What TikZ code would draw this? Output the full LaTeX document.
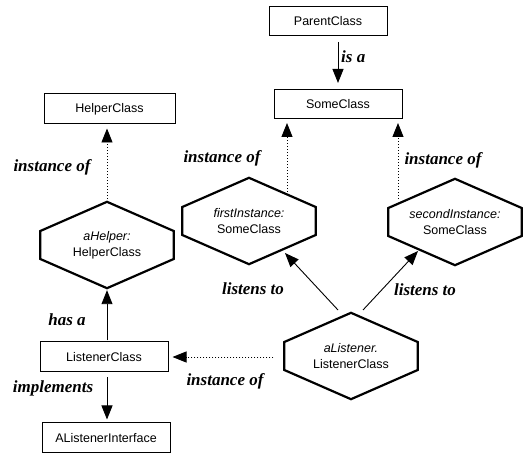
\documentclass[tikz,border=0pt]{standalone}
\usepackage{fontspec}
\setmainfont{Liberation Sans}
\newfontfamily\lblfont{Liberation Serif}
\usetikzlibrary{arrows.meta,calc}
\newcommand\drawhex[1]{%
  \draw[hexline] (#1.north) -- ($(#1.east)+(0,-14)$) -- ($(#1.east)+(0,14)$)
    -- (#1.south) -- ($(#1.west)+(0,14)$) -- ($(#1.west)+(0,-14)$) -- cycle;}
\begin{document}
\begin{tikzpicture}[x=1pt,y=-1pt,
  box/.style={draw, line width=1pt, minimum width=128pt, minimum height=29pt,
    inner sep=0pt, font=\fontsize{12.5}{15}\selectfont},
  hexa/.style={minimum width=133pt, minimum height=86pt, inner sep=0pt,
    align=center, font=\fontsize{12.5}{16}\selectfont},
  hexline/.style={line width=2.2pt, line join=miter},
  lbl/.style={font=\lblfont\bfseries\itshape\fontsize{17}{20}\selectfont, inner sep=0pt},
  arr/.style={line width=0.9pt, -{Triangle[length=14pt,width=11pt]}},
  dots/.style={arr, dash pattern=on 1pt off 2pt}
]
\useasboundingbox[fill=white] (0,0) rectangle (528,462);

% class boxes
\node[box, minimum width=118pt] (parent) at (328,21) {ParentClass};
\node[box] (some) at (338,104) {SomeClass};
\node[box, minimum width=131pt, minimum height=30pt] (helper) at (109.5,109) {HelperClass};
\node[box, minimum height=30pt] (listener) at (104,357) {ListenerClass};
\node[box, minimum height=30pt] (iface) at (106,438) {AListenerInterface};

% object hexagons
\node[hexa] (ahelper) at (107,245) {\textit{aHelper:}\\HelperClass};
\node[hexa] (first) at (249,221) {\textit{firstInstance:}\\SomeClass};
\node[hexa] (second) at (455,222) {\textit{secondInstance:}\\SomeClass};
\node[hexa] (alist) at (351,356) {\textit{aListener.}\\ListenerClass};
\drawhex{ahelper}
\drawhex{first}
\drawhex{second}
\drawhex{alist}

% helper coordinates
\coordinate (f1) at ($(first.center)+(38,-26)$);
\coordinate (s1) at ($(second.center)+(-57,-23)$);
\coordinate (l1) at ($(alist.west)+(-11,1)$);

% connectors
\draw[arr, shorten <=6pt, shorten >=6pt] (parent.south -| some.north) -- (some.north);
\draw[dots, shorten >=4pt] (ahelper.north) -- (helper.south -| ahelper.north);
\draw[dots, shorten >=4pt] (f1) -- (f1 |- some.south);
\draw[dots, shorten >=4pt] (s1) -- (s1 |- some.south);
\draw[dots, shorten >=4pt] (l1) -- (l1 -| listener.east);
\draw[arr, shorten <=1pt, shorten >=2pt] (listener.north -| ahelper.south) -- (ahelper.south);
\draw[arr, shorten <=5pt, shorten >=3pt] (listener.south -| ahelper.south) -- (iface.north -| ahelper.south);
\draw[arr] ($(alist.center)+(-13,-46)$) -- ($(first.center)+(36,32)$);
\draw[arr] ($(alist.center)+(12,-46)$) -- ($(second.center)+(-37,29)$);

% labels
\node[lbl, anchor=west] (lisa) at (341,57) {is a};
\node[lbl] (linst1) at (52,167) {instance of};
\node[lbl] (linst2) at (222,158) {instance of};
\node[lbl] (linst3) at (443,160) {instance of};
\node[lbl] (llis1) at (253,289) {listens to};
\node[lbl] (llis2) at (425,290) {listens to};
\node[lbl] (lhas) at (67,320) {has a};
\node[lbl] (limpl) at (53,388) {implements};
\node[lbl] (linst4) at (225,381) {instance of};
\end{tikzpicture}
\end{document}
